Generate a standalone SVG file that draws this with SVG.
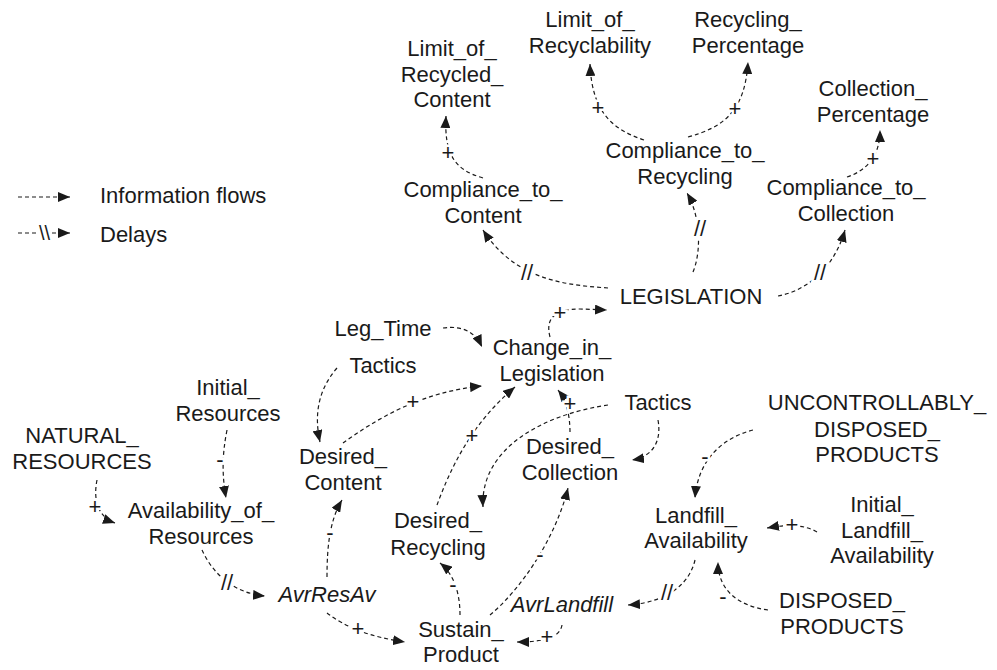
<svg xmlns="http://www.w3.org/2000/svg" width="997" height="670" viewBox="0 0 997 670">
<defs>
<marker id="ah" markerWidth="12" markerHeight="10" refX="12" refY="5" orient="auto" markerUnits="userSpaceOnUse"><path d="M0,0 L12,5 L0,10 z" fill="#1a1a1a"/></marker>
<style>
text{font-family:"Liberation Sans",Arial,sans-serif;font-size:22px;fill:#1a1a1a}
.n text{text-anchor:middle}
.it{font-style:italic}
.c path{fill:none;stroke:#1a1a1a;stroke-width:1.2;stroke-dasharray:4 3;marker-end:url(#ah)}
.c path.nm{marker-end:none}
.l{text-anchor:middle;stroke:#fff;stroke-width:5;paint-order:stroke}
</style>
</defs>
<rect width="997" height="670" fill="#fff"/>

<g id="legend">
<g class="c"><path d="M18 197 L70 197"/><path class="nm" d="M18 233 L38 233"/><path d="M52 233 L70 233"/></g>
<text x="39" y="240" style="font-size:20px">\\</text>
<text x="100" y="203">Information flows</text>
<text x="100" y="242">Delays</text>
</g>

<g id="connectors" class="c">
<path d="M483 178 C455 170 444 155 446 116"/>
<path d="M644 140 C615 130 592 115 590 64"/>
<path d="M688 137 C725 127 745 110 748 62"/>
<path d="M847 177 C868 170 880 155 880 130"/>
<path d="M608 288 C565 285 515 280 483 230"/>
<path d="M693 272 C702 250 700 215 687 193"/>
<path d="M778 296 C810 290 835 265 845 230"/>
<path d="M550 337 C545 318 555 309 580 309 L607 310"/>
<path d="M443 328 C465 325 476 334 482 347"/>
<path d="M337 368 C318 390 314 415 320 442"/>
<path d="M343 443 C375 420 420 392 482 386"/>
<path d="M437 505 C450 470 470 425 515 387"/>
<path d="M570 432 C570 415 566 400 558 390"/>
<path d="M608 405 C540 415 480 450 483 507"/>
<path d="M658 420 C662 442 652 457 632 460"/>
<path d="M227 430 C222 455 222 475 226 498"/>
<path d="M97 480 C93 500 98 517 115 523"/>
<path d="M202 550 C212 572 232 593 265 596"/>
<path d="M327 577 C327 545 330 520 342 500"/>
<path d="M327 613 C345 627 370 637 405 642"/>
<path d="M460 615 C460 595 455 575 440 563"/>
<path d="M490 615 C520 590 555 540 568 488"/>
<path d="M562 625 C560 637 545 642 517 642"/>
<path d="M695 560 C690 582 670 602 628 605"/>
<path d="M768 610 C738 606 718 590 718 562"/>
<path d="M817 532 C805 525 790 524 767 528"/>
<path d="M753 430 C722 438 698 460 695 498"/>
</g>

<g id="labels">
<text class="l" x="448" y="160">+</text>
<text class="l" x="598" y="115">+</text>
<text class="l" x="735" y="116">+</text>
<text class="l" x="873" y="166">+</text>
<text class="l" x="527" y="280">//</text>
<text class="l" x="700" y="236">//</text>
<text class="l" x="820" y="280">//</text>
<text class="l" x="560" y="320">+</text>
<text class="l" x="413" y="409">+</text>
<text class="l" x="472" y="443">+</text>
<text class="l" x="570" y="411">+</text>
<text class="l" x="220" y="467">-</text>
<text class="l" x="95" y="514">+</text>
<text class="l" x="227" y="590">//</text>
<text class="l" x="330" y="540">-</text>
<text class="l" x="358" y="636">+</text>
<text class="l" x="453" y="592">-</text>
<text class="l" x="540" y="562">-</text>
<text class="l" x="547" y="644">+</text>
<text class="l" x="667" y="600">//</text>
<text class="l" x="723" y="604">-</text>
<text class="l" x="792" y="532">+</text>
<text class="l" x="705" y="464">-</text>
</g>

<g id="limit_recycled_content" class="n"><text x="452" y="56">Limit_of_</text><text x="452" y="82">Recycled_</text><text x="452" y="107">Content</text></g>
<g id="limit_recyclability" class="n"><text x="590" y="27">Limit_of_</text><text x="590" y="53">Recyclability</text></g>
<g id="recycling_percentage" class="n"><text x="748" y="27">Recycling_</text><text x="748" y="53">Percentage</text></g>
<g id="collection_percentage" class="n"><text x="873" y="96">Collection_</text><text x="873" y="122">Percentage</text></g>
<g id="compliance_recycling" class="n"><text x="685" y="158">Compliance_to_</text><text x="685" y="184">Recycling</text></g>
<g id="compliance_collection" class="n"><text x="846" y="195">Compliance_to_</text><text x="846" y="221">Collection</text></g>
<g id="compliance_content" class="n"><text x="483" y="197">Compliance_to_</text><text x="483" y="223">Content</text></g>
<g id="legislation" class="n"><text x="691" y="304">LEGISLATION</text></g>
<g id="leg_time" class="n"><text x="383" y="336">Leg_Time</text></g>
<g id="change_in_legislation" class="n"><text x="552" y="355">Change_in_</text><text x="552" y="381">Legislation</text></g>
<g id="tactics_left" class="n"><text x="383" y="373">Tactics</text></g>
<g id="tactics_right" class="n"><text x="658" y="410">Tactics</text></g>
<g id="initial_resources" class="n"><text x="228" y="395">Initial_</text><text x="228" y="421">Resources</text></g>
<g id="natural_resources" class="n"><text x="82" y="443">NATURAL_</text><text x="82" y="469">RESOURCES</text></g>
<g id="desired_content" class="n"><text x="343" y="464">Desired_</text><text x="343" y="490">Content</text></g>
<g id="desired_collection" class="n"><text x="570" y="454">Desired_</text><text x="570" y="480">Collection</text></g>
<g id="availability_resources" class="n"><text x="201" y="518">Availability_of_</text><text x="201" y="544">Resources</text></g>
<g id="desired_recycling" class="n"><text x="438" y="528">Desired_</text><text x="438" y="555">Recycling</text></g>
<g id="avrresav" class="n"><text class="it" x="327" y="602">AvrResAv</text></g>
<g id="avrlandfill" class="n"><text class="it" x="562" y="612">AvrLandfill</text></g>
<g id="sustain_product" class="n"><text x="461" y="637">Sustain_</text><text x="461" y="662">Product</text></g>
<g id="uncontrollably_disposed" class="n"><text x="877" y="410">UNCONTROLLABLY_</text><text x="877" y="437">DISPOSED_</text><text x="877" y="462">PRODUCTS</text></g>
<g id="landfill_availability" class="n"><text x="696" y="523">Landfill_</text><text x="696" y="548">Availability</text></g>
<g id="initial_landfill" class="n"><text x="882" y="512">Initial_</text><text x="882" y="538">Landfill_</text><text x="882" y="563">Availability</text></g>
<g id="disposed_products" class="n"><text x="842" y="608">DISPOSED_</text><text x="842" y="634">PRODUCTS</text></g>
</svg>
